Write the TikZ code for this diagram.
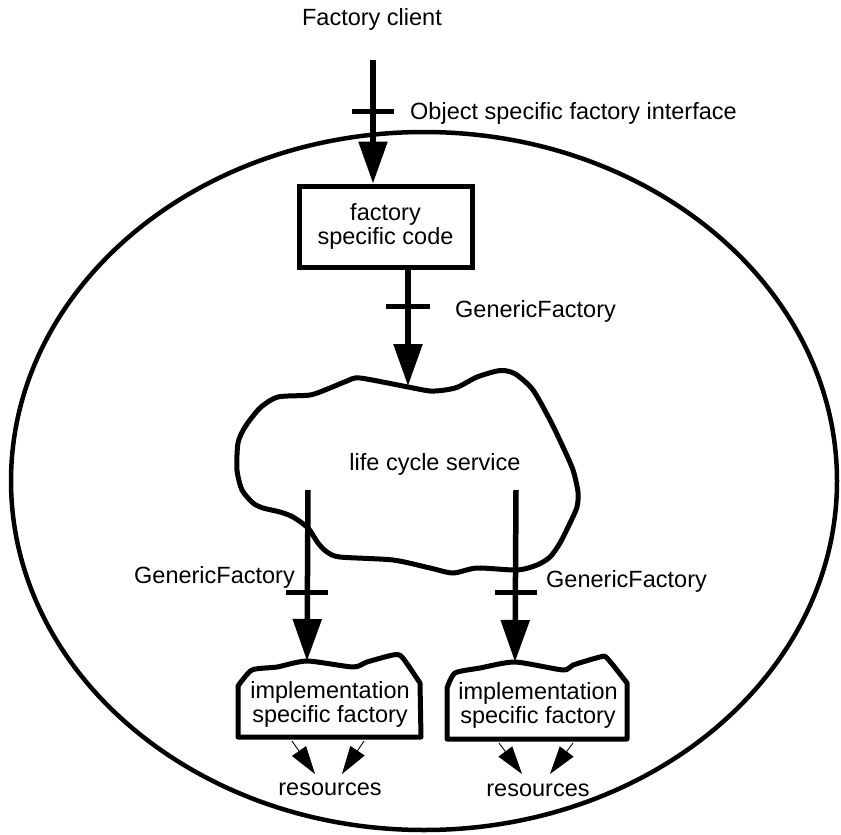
\documentclass[tikz,border=0pt]{standalone}
\usepackage{fontspec}
\setmainfont{Liberation Sans}
\usetikzlibrary{arrows.meta}

\tikzset{
  lbl/.style={font=\fontsize{23.5}{23.5}\selectfont, inner sep=0pt},
  heavy/.style={line width=5pt},
  flow/.style={line width=5.5pt, -{Triangle[width=28pt,length=42pt]}},
  crossbar/.style={line width=5pt},
  thinflow/.style={line width=0.9pt, -{Triangle[width=17pt,length=28pt]}},
  boundary/.style={line width=4.5pt},
}

\begin{document}
\begin{tikzpicture}[x=1pt,y=-1pt]
  \useasboundingbox (0,0) rectangle (841,835);

  % component boundary
  \draw[boundary] (424,481) ellipse [x radius=413pt, y radius=349pt];

  % client side
  \node[lbl, anchor=base] (client) at (372,25) {Factory client};
  \coordinate (clientout) at (373,60);

  % factory specific code box
  \node[lbl, draw, line width=5pt, minimum width=173pt, minimum height=81pt,
        align=center, inner sep=0pt] (fsc) at (385.5,226.5) {factory\\specific code};

  \draw[flow] (clientout) -- (fsc.north -| clientout);
  \draw[crossbar] (352,111) -- (394,111);
  \node[lbl, anchor=base west] (ifc) at (410,119) {Object specific factory interface};

  % life cycle service cloud
  \draw[heavy] plot[smooth cycle, tension=0.45] coordinates {
    (278,397) (310,395) (330,388) (347,381) (360,378) (408,387) (430,391)
    (445,390) (458,387) (477,377) (497,371) (507,371) (517,375) (533,390)
    (550,420) (563,447) (573,470) (578,492) (577,507) (570,523) (560,543)
    (550,557) (537,565) (517,570) (477,568) (453,573) (430,568) (393,560)
    (340,557) (327,552) (318,543) (308,528) (293,517) (280,512) (263,508)
    (253,503) (242,490) (237,470) (238,443) (245,427) (260,408)};
  \node[lbl, anchor=base] (lcs) at (435,470) {life cycle service};
  \coordinate (lcstop) at (408,386);
  \coordinate (lcsleft) at (308,490);
  \coordinate (lcsright) at (516,490);

  \draw[flow] (fsc.south -| lcstop) -- (lcstop);
  \draw[crossbar] (386,306) -- (430,306);
  \node[lbl, anchor=base west] (gf1) at (455,317) {GenericFactory};

  % implementation specific factories
  \draw[heavy, line join=round] (238,737) -- (238,686)
    -- plot[smooth, tension=0.4] coordinates {(238,686) (252,670) (277,667) (307,661)
       (353,667) (367,662) (393,655) (402,657) (420,683)}
    -- (421,737) -- cycle;
  \node[lbl, align=center] (impl1) at (330,704.5) {implementation\\specific factory};
  \coordinate (impl1top) at (307,661);

  \draw[heavy, line join=round] (447,739) -- (447,688)
    -- plot[smooth, tension=0.4] coordinates {(447,688) (455,673) (480,668) (515,662)
       (563,670) (573,665) (600,657) (607,658) (627,683)}
    -- (627,739) -- cycle;
  \node[lbl, align=center] (impl2) at (538,705.5) {implementation\\specific factory};
  \coordinate (impl2top) at (515,662);

  \draw[flow] (lcsleft) -- (impl1top);
  \draw[crossbar] (286,592) -- (328,592);
  \node[lbl, anchor=base east] (gf2) at (295,583) {GenericFactory};

  \draw[flow] (lcsright) -- (impl2top);
  \draw[crossbar] (495,592) -- (537,592);
  \node[lbl, anchor=base west] (gf3) at (546,587) {GenericFactory};

  % resources
  \node[lbl, anchor=base] (res1) at (330,795) {resources};
  \node[lbl, anchor=base] (res2) at (538,796.5) {resources};
  \coordinate (r1a) at (292,741);
  \coordinate (r1b) at (364,741);
  \coordinate (r2a) at (499,743);
  \coordinate (r2b) at (573,743);
  \coordinate (t1a) at (315,774);
  \coordinate (t1b) at (342,774);
  \coordinate (t2a) at (522,774);
  \coordinate (t2b) at (550,774);
  \draw[thinflow] (r1a) -- (t1a);
  \draw[thinflow] (r1b) -- (t1b);
  \draw[thinflow] (r2a) -- (t2a);
  \draw[thinflow] (r2b) -- (t2b);
\end{tikzpicture}
\end{document}
